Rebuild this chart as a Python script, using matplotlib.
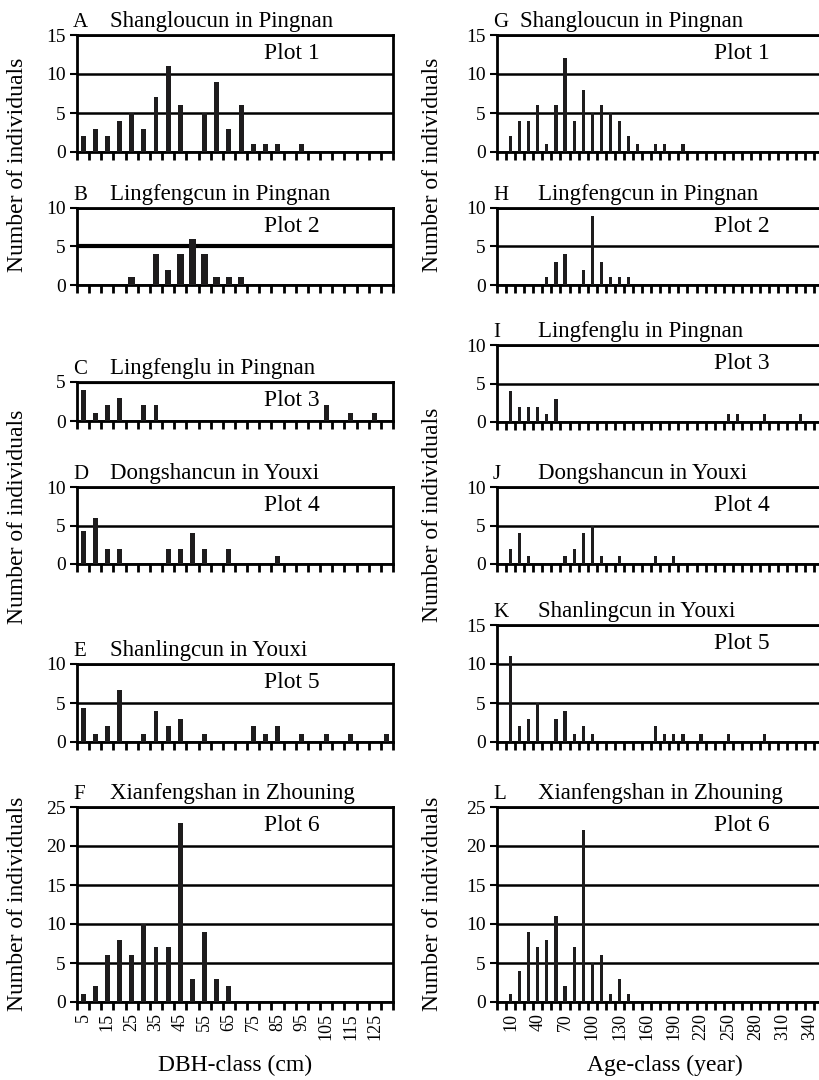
import matplotlib
matplotlib.use('Agg')
import matplotlib.pyplot as plt
import numpy as np

plt.rcParams['font.family'] = ['Liberation Serif', 'DejaVu Serif']

# class labels
dbh_classes = [5, 10, 15, 20, 25, 30, 35, 40, 45, 50, 55, 60, 65, 70, 75, 80, 85,
               90, 95, 100, 105, 110, 115, 120, 125, 130]
age_classes = [0, 10, 20, 30, 40, 50, 60, 70, 80, 90, 100, 110, 120, 130, 140, 150,
               160, 170, 180, 190, 200, 210, 220, 230, 240, 250, 260, 270, 280, 290,
               300, 310, 320, 330, 340, 350]

# DBH-class counts (left column)
dbh_plot1 = [2, 3, 2, 4, 5, 3, 7, 11, 6, 0, 5, 9, 3, 6, 1, 1, 1, 0, 1, 0, 0, 0, 0, 0, 0, 0]
dbh_plot2 = [0, 0, 0, 0, 1, 0, 4, 2, 4, 6, 4, 1, 1, 1, 0, 0, 0, 0, 0, 0, 0, 0, 0, 0, 0, 0]
dbh_plot3 = [4, 1, 2, 3, 0, 2, 2, 0, 0, 0, 0, 0, 0, 0, 0, 0, 0, 0, 0, 0, 2, 0, 1, 0, 1, 0]
dbh_plot4 = [4.3, 6, 2, 2, 0, 0, 0, 2, 2, 4, 2, 0, 2, 0, 0, 0, 1, 0, 0, 0, 0, 0, 0, 0, 0, 0]
dbh_plot5 = [4.3, 1, 2, 6.7, 0, 1, 4, 2, 3, 0, 1, 0, 0, 0, 2, 1, 2, 0, 1, 0, 1, 0, 1, 0, 0, 1]
dbh_plot6 = [1, 2, 6, 8, 6, 10, 7, 7, 23, 3, 9, 3, 2, 0, 0, 0, 0, 0, 0, 0, 0, 0, 0, 0, 0, 0]

# Age-class counts (right column)
age_plot1 = [0, 2, 4, 4, 6, 1, 6, 12, 4, 8, 5, 6, 5, 4, 2, 1, 0, 1, 1, 0, 1, 0, 0, 0,
             0, 0, 0, 0, 0, 0, 0, 0, 0, 0, 0, 0]
age_plot2 = [0, 0, 0, 0, 0, 1, 3, 4, 0, 2, 9, 3, 1, 1, 1, 0, 0, 0, 0, 0, 0, 0, 0, 0,
             0, 0, 0, 0, 0, 0, 0, 0, 0, 0, 0, 0]
age_plot3 = [0, 4, 2, 2, 2, 1, 3, 0, 0, 0, 0, 0, 0, 0, 0, 0, 0, 0, 0, 0, 0, 0, 0, 0,
             0, 1, 1, 0, 0, 1, 0, 0, 0, 1, 0, 0]
age_plot4 = [0, 2, 4, 1, 0, 0, 0, 1, 2, 4, 5, 1, 0, 1, 0, 0, 0, 1, 0, 1, 0, 0, 0, 0,
             0, 0, 0, 0, 0, 0, 0, 0, 0, 0, 0, 0]
age_plot5 = [0, 11, 2, 3, 5, 0, 3, 4, 1, 2, 1, 0, 0, 0, 0, 0, 0, 2, 1, 1, 1, 0, 1, 0,
             0, 1, 0, 0, 0, 1, 0, 0, 0, 0, 0, 0]
age_plot6 = [0, 1, 4, 9, 7, 8, 11, 2, 7, 22, 5, 6, 1, 3, 1, 0, 0, 0, 0, 0, 0, 0, 0, 0,
             0, 0, 0, 0, 0, 0, 0, 0, 0, 0, 0, 0]

letters_left = ['A', 'B', 'C', 'D', 'E', 'F']
letters_right = ['G', 'H', 'I', 'J', 'K', 'L']
sites = ['Shangloucun in Pingnan', 'Lingfengcun in Pingnan', 'Lingfenglu in Pingnan',
         'Dongshancun in Youxi', 'Shanlingcun in Youxi', 'Xianfengshan in Zhouning']
plot_names = ['Plot 1', 'Plot 2', 'Plot 3', 'Plot 4', 'Plot 5', 'Plot 6']
ymax_left = [15, 10, 5, 10, 10, 25]
ymax_right = [15, 10, 10, 10, 15, 25]

W, H = 819, 1080
fig = plt.figure(figsize=(W / 100, H / 100), dpi=100)

# pixel boxes (top, bottom) of each panel
rows_left = [(35, 152), (208, 285), (382, 421), (487, 564), (664, 742), (807, 1002)]
rows_right = [(35, 152), (208, 285), (345, 422), (487, 564), (625, 742), (807, 1002)]
LEFT_X = (77, 393)
RIGHT_X = (497, 823.5)

BAR = '#1e1c1d'


def panel(xr, yr, values, classes, ymax, letter, site, pname, name_x, plot_x,
          width, labels=False, label_every=2, label_start=0, thick=None):
    x0, x1 = xr
    top, bottom = yr
    ax = fig.add_axes([x0 / W, 1 - bottom / H, (x1 - x0) / W, (bottom - top) / H])
    n = len(classes)
    idx = np.arange(n)
    ax.bar(idx, values, width=width, color=BAR, zorder=3)
    ax.set_xlim(-0.5, n - 0.5)
    ax.set_ylim(0, ymax)
    ax.set_yticks(np.arange(0, ymax + 1, 5))
    ax.yaxis.grid(True, color='black', lw=1.8, zorder=1)
    if thick is not None:
        ax.axhline(thick, color='black', lw=3, zorder=2)
    ax.tick_params(axis='y', direction='out', length=5, width=1.5, labelsize=14, pad=3)
    ax.set_xticks(np.arange(-0.5, n, 1))
    ax.set_xticklabels([])
    ax.tick_params(axis='x', which='major', direction='out', length=6, width=2)
    if labels:
        pos = idx[label_start::label_every]
        ax.set_xticks(pos, minor=True)
        ax.set_xticklabels([str(classes[i]) for i in pos], minor=True,
                           rotation=90, fontsize=13)
        ax.tick_params(axis='x', which='minor', length=0, pad=8)
    for s in ax.spines.values():
        s.set_linewidth(2)
        s.set_color('black')
    ax.text(plot_x, ymax - 2.4, pname, transform=ax.get_yaxis_transform(),
            fontsize=17, ha='center', va='center', zorder=4)
    ty = 1 - (top - 8) / H
    fig.text((x0 - 4) / W, ty, letter, fontsize=15, va='baseline')
    fig.text(name_x / W, ty, site, fontsize=16.5, va='baseline')
    return ax


left_data = [dbh_plot1, dbh_plot2, dbh_plot3, dbh_plot4, dbh_plot5, dbh_plot6]
right_data = [age_plot1, age_plot2, age_plot3, age_plot4, age_plot5, age_plot6]

for k in range(6):
    last = k == 5
    panel(LEFT_X, rows_left[k], left_data[k], dbh_classes, ymax_left[k],
          letters_left[k], sites[k], plot_names[k], 110, 0.68,
          0.55 if k == 1 else 0.4, labels=last, label_every=2, label_start=0,
          thick=5 if k == 1 else (5 if k == 2 else None))
    panel(RIGHT_X, rows_right[k], right_data[k], age_classes, ymax_right[k],
          letters_right[k], sites[k], plot_names[k], 520 if k == 0 else 538, 0.75,
          0.35, labels=last, label_every=3, label_start=1)

# shared axis titles
for xc, yc in [(18, 165), (18, 517), (18, 904), (432, 165), (432, 515), (432, 904)]:
    fig.text(xc / W, 1 - yc / H, 'Number of individuals', rotation=90,
             fontsize=17, ha='center', va='center')
fig.text(235 / W, 1 - 1065 / H, 'DBH-class (cm)', fontsize=17, ha='center', va='center')
fig.text(665 / W, 1 - 1065 / H, 'Age-class (year)', fontsize=17, ha='center', va='center')

fig.savefig('out.png', dpi=100)
